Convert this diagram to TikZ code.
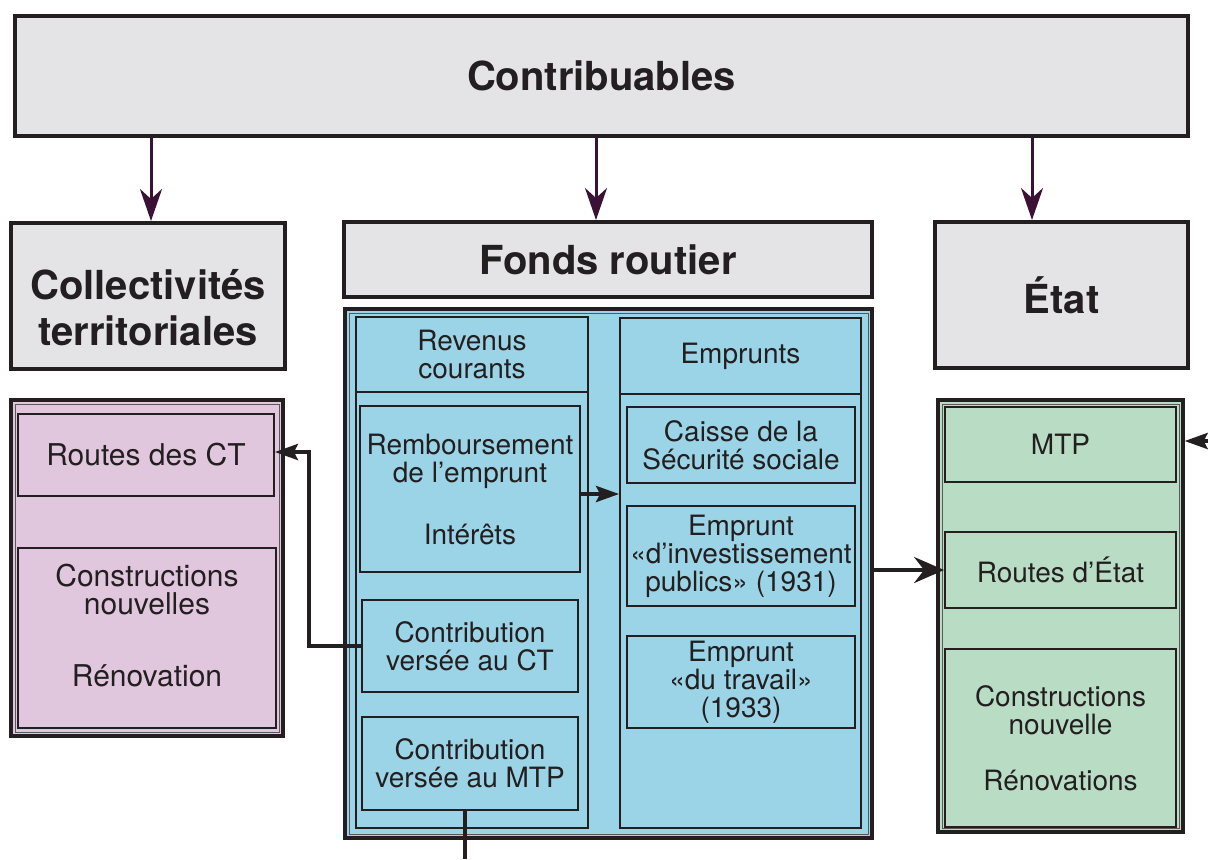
\documentclass[tikz,border=0pt]{standalone}
\usepackage{fontspec}
\setmainfont{TeX Gyre Heros}
\usepackage{xcolor}
\usepackage{tikz}
\usetikzlibrary{arrows.meta,positioning,calc}
\definecolor{rdGray}{HTML}{E4E4E6}
\definecolor{rdPink}{HTML}{E1C7DE}
\definecolor{rdBlue}{HTML}{9BD4E6}
\definecolor{rdGreen}{HTML}{B9DCC5}
\definecolor{rdPlum}{HTML}{3B1236}
\definecolor{rdInk}{HTML}{231F20}

\begin{document}
\begin{tikzpicture}[x=0.5pt,y=-0.5pt,
  head/.style={draw=rdInk,fill=rdGray,line width=2pt,align=center,inner sep=0pt,
    font=\fontsize{20}{23}\selectfont\bfseries,text=rdInk},
  group/.style={draw=rdInk,line width=1.6pt,inner sep=0pt,
    path picture={\draw[rdInk!75,line width=0.5pt]
      ([shift={(2pt,2pt)}]path picture bounding box.south west) rectangle
      ([shift={(-2pt,-2pt)}]path picture bounding box.north east);}},
  cell/.style={draw=rdInk,line width=0.9pt,align=center,inner sep=1pt,
    font=\fontsize{14}{14}\selectfont,text=rdInk},
  down/.style={-{Stealth[length=16pt,width=11pt,inset=5pt]},line width=1.5pt,draw=rdPlum},
  link/.style={-{Stealth[length=11.5pt,width=8pt,inset=2pt]},line width=2pt,draw=rdInk},
  bigarrow/.style={-{Stealth[length=15pt,width=13pt,inset=5pt]},line width=1.9pt,draw=rdInk}
]
\useasboundingbox (0,0) rectangle (1208,859);

% top row
\node[head,minimum width=586.5pt,minimum height=60pt] (contrib) at (601.5,76) {Contribuables};
\node[head,minimum width=137pt,minimum height=73pt] (ct) at (148,296) {\rule{0pt}{27pt}Collectivités\\territoriales};
\node[head,minimum width=264pt,minimum height=37.5pt] (fonds) at (608,259.5) {Fonds routier};
\node[head,minimum width=126.5pt,minimum height=73pt] (etat) at (1061.5,295) {État};

% collectivites
\node[group,fill=rdPink,minimum width=136pt,minimum height=168pt] (rose) at (147,568) {};
\node[cell,font=\fontsize{15}{14}\selectfont,minimum width=128pt,minimum height=41pt] (rct) at (146,455) {Routes des CT};
\node[cell,font=\fontsize{15}{14}\selectfont,minimum width=129pt,minimum height=90pt] (cnct) at (147,638)
  {Constructions\\nouvelles\\[22pt]Rénovation\rule[-13pt]{0pt}{13pt}};

% fonds routier
\node[group,fill=rdBlue,minimum width=263.5pt,minimum height=264.5pt] (bleu) at (608.5,573.5) {};
\node[cell,minimum width=116pt,minimum height=255.5pt] (rev) at (472,572.5) {};
\node[cell,minimum width=116pt,minimum height=37.5pt] (revhead) at (472,354.5) {Revenus\\courants};
\node[cell,minimum width=120.5pt,minimum height=255pt] (emp) at (740.5,573) {};
\node[cell,minimum width=120.5pt,minimum height=38pt] (emphead) at (740.5,356) {Emprunts};
\node[cell,minimum width=110pt,minimum height=83pt] (remb) at (470,489) {Remboursement\\de l’emprunt\\[17pt]Intérêts};
\node[cell,minimum width=108pt,minimum height=46pt] (ctc) at (470,646) {Contribution\\versée au CT};
\node[cell,minimum width=108pt,minimum height=46.5pt] (cmtp) at (470,763.5) {Contribution\\versée au MTP};
\node[cell,minimum width=114pt,minimum height=38pt] (caisse) at (741,445) {Caisse de la\\Sécurité sociale};
\node[cell,minimum width=114pt,minimum height=50pt] (e31) at (741,556) {Emprunt\\«d’investissement\\publics» (1931)};
\node[cell,minimum width=114pt,minimum height=46pt] (e33) at (741,682) {Emprunt\\«du travail»\\(1933)};

% etat
\node[group,fill=rdGreen,minimum width=122.5pt,minimum height=216pt] (vert) at (1060.5,616) {};
\node[cell,minimum width=115.5pt,minimum height=37.5pt] (mtp) at (1060.5,444.5) {MTP};
\node[cell,minimum width=115.5pt,minimum height=38pt] (rde) at (1060.5,570) {Routes d’État};
\node[cell,minimum width=115.5pt,minimum height=89pt] (cnet) at (1060.5,738) {Constructions\\nouvelle\\[14pt]Rénovations};

% loose ends
\coordinate (mtpin) at (1208,441);
\coordinate (mtpout) at (465,859);

% arrows
\draw[down] ([xshift=1.5pt]ct.north |- contrib.south) -- ([xshift=1.5pt]ct.north);
\draw[down] ([xshift=-6pt]fonds.north |- contrib.south) -- ([xshift=-6pt]fonds.north);
\draw[down] ([xshift=-14.75pt]etat.north |- contrib.south) -- ([xshift=-14.75pt]etat.north);
\draw[link] ([yshift=-2.5pt]remb.east) -- ([yshift=-2.5pt]remb.east -| emp.west);
\draw[link] (ctc.west) -- ++(-26pt,0) |- ([yshift=1.5pt]rct.east);
\draw[bigarrow] (bleu.east |- rde.west) -- (rde.west);
\draw[link] (mtpin) -- (mtpin -| vert.east);
\draw[line width=1.6pt,draw=rdInk] (cmtp.south -| mtpout) -- (mtpout);
\end{tikzpicture}
\end{document}
